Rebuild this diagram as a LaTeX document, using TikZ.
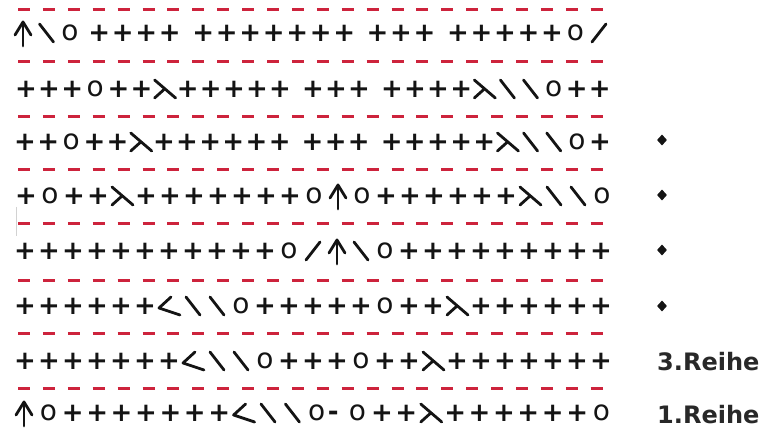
\documentclass[tikz,border=0pt]{standalone}
\usepackage{fontspec}
\newfontfamily\dvfont{DejaVu Sans}
\usetikzlibrary{shapes.geometric}
\definecolor{dashred}{RGB}{205,35,60}
\definecolor{ink}{RGB}{20,20,20}
\definecolor{labink}{RGB}{40,40,40}

% advance (in pitches) after each token
\def\advP{1}\def\advO{1}\def\advA{1}\def\advB{1}\def\advS{1}\def\advL{1}\def\advR{1}\def\advM{1}
\def\advG{0.42}\def\advH{0.25}\def\advN{-0.33}

\tikzset{
  plusst/.style={font=\dvfont\bfseries\fontsize{26}{28}\selectfont, inner sep=0pt, text=ink},
  ost/.style={font=\dvfont\fontsize{28}{30}\selectfont, inner sep=0pt, text=ink},
  symline/.style={line width=2.8pt, draw=ink, line cap=round, line join=round},
  dashline/.style={draw=dashred, line width=3pt, dash pattern=on 12pt off 12.9pt},
  dmark/.style={diamond, fill=ink, inner sep=0pt, minimum width=10pt, minimum height=11pt},
  lab/.style={font=\dvfont\bfseries\fontsize{24}{26}\selectfont, text=labink, inner sep=0pt, anchor=west}
}

% chart symbols: #1 = x, #2 = y (y grows downward)
\newcommand\chP[2]{\node[plusst] at (#1,#2) {+};}
\newcommand\chO[2]{\node[ost] at (#1,#2) {o};}
\newcommand\chM[2]{\node[plusst] at (#1,#2+3) {-};}
\newcommand\chB[2]{\draw[symline] (#1-7,#2-9) -- (#1+7,#2+9);}
\newcommand\chS[2]{\draw[symline] (#1-7,#2+9) -- (#1+7,#2-9);}
\newcommand\chA[2]{\draw[symline] (#1,#2-11) -- (#1,#2+13); \draw[symline] (#1-8,#2+2) -- (#1,#2-11) -- (#1+8,#2+2);}
\newcommand\chL[2]{\draw[symline] (#1-10,#2-9) -- (#1+11,#2+9); \draw[symline] (#1,#2) -- (#1-10,#2+9);}
\newcommand\chR[2]{\draw[symline] (#1+2,#2-9) -- (#1-10,#2+2) -- (#1+11,#2+9);}
\newcommand\chG[2]{}
\newcommand\chH[2]{}
\newcommand\chN[2]{}

% #1 = row y, #2 = start x, #3 = pitch, #4 = token list
\newcommand\chartrow[4]{%
  \xdef\curx{#2}%
  \foreach \t in {#4}{%
    \csname ch\t\endcsname{\curx}{#1}%
    \edef\myadv{\csname adv\t\endcsname}%
    \pgfmathsetmacro\nx{\curx+\myadv*#3}%
    \xdef\curx{\nx}%
  }%
}

\begin{document}
\begin{tikzpicture}[x=1pt,y=-1pt]
\useasboundingbox (0,0) rectangle (770,430);
\fill[white] (0,0) rectangle (770,430);

% red dashed separators
\foreach \yy in {10,62,117,170,224,280,333,388}
  \draw[dashline] (18,\yy) -- (603,\yy);

% faint scan mark at left
\draw[gray!35, line width=0.8pt] (16,207) -- (16,236);

% rows of the chart
\chartrow{33}{23}{23.5}{A,B,O,H,P,P,P,P,G,P,P,P,P,P,P,P,G,P,P,P,G,P,P,P,P,P,O,S}
\chartrow{89}{26}{23.1}{P,P,P,O,P,P,L,P,P,P,P,P,G,P,P,P,G,P,P,P,P,L,B,B,O,P,P}
\chartrow{142}{25}{23.15}{P,P,O,P,P,L,P,P,P,P,P,P,G,P,P,P,G,P,P,P,P,P,L,B,B,O,P}
\chartrow{196}{26}{24}{P,O,P,P,L,P,P,P,P,P,P,P,O,A,O,P,P,P,P,P,P,L,B,B,O}
\chartrow{251}{25}{24}{P,P,P,P,P,P,P,P,P,P,P,O,S,A,B,O,P,P,P,P,P,P,P,P,P}
\chartrow{306}{25}{24}{P,P,P,P,P,P,R,B,B,O,P,P,P,P,P,O,P,P,L,P,P,P,P,P,P}
\chartrow{361}{25}{24}{P,P,P,P,P,P,P,R,B,B,O,P,P,P,O,P,P,L,P,P,P,P,P,P,P}
\chartrow{413}{24}{24.4}{A,O,P,P,P,P,P,P,P,R,B,B,O,N,M,O,P,P,L,P,P,P,P,P,P,O}

% markers and row labels
\node[dmark] (d1) at (662,140) {};
\node[dmark] (d2) at (662,195) {};
\node[dmark] (d3) at (662,250) {};
\node[dmark] (d4) at (662,306) {};
\node[lab] (r3) at (657,362) {3.Reihe};
\node[lab] (r1) at (657,415) {1.Reihe};
\end{tikzpicture}
\end{document}
